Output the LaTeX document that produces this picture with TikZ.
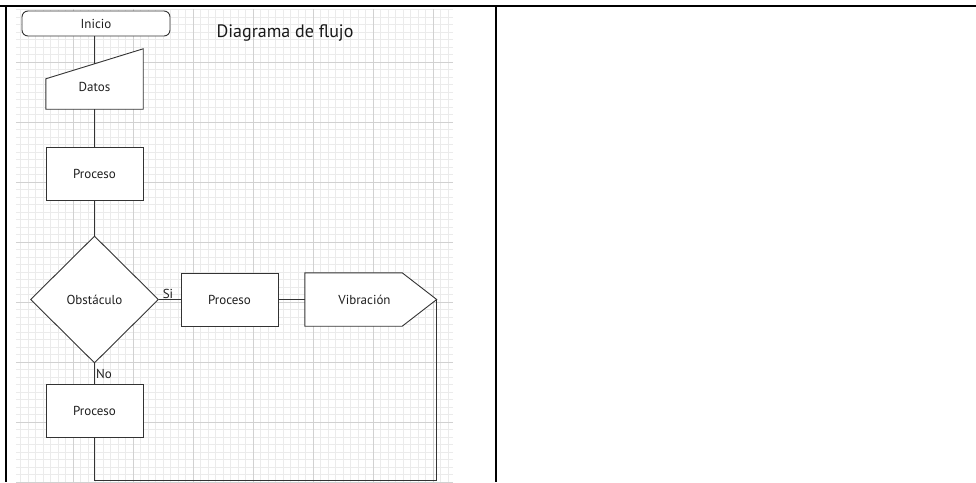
\documentclass[tikz,border=0pt]{standalone}
\usepackage{fontspec}
\setmainfont{PT Sans}
\usetikzlibrary{shapes.geometric,backgrounds}

\tikzset{
    linea/.style={draw=black!80, line width=0.9pt},
    malla/.style={draw=black!8, line width=0.6pt},
    mallagruesa/.style={draw=black!18, line width=0.6pt},
    borde/.style={draw=black, line width=2pt},
    texto/.style={font=\fontsize{13}{15}\selectfont, text=black!88},
    caja/.style={linea, texto, fill=white, rectangle, minimum width=97pt, minimum height=53pt, inner sep=0pt},
    inicio/.style={caja, rounded corners=6pt, minimum width=148pt, minimum height=25pt},
    decision/.style={linea, texto, fill=white, diamond, minimum width=128pt, minimum height=127pt, inner sep=0pt},
    hueco/.style={texto, rectangle, inner sep=0pt}
}

\begin{document}
\begin{tikzpicture}[x=1pt, y=-1pt]
    \useasboundingbox (0,0) rectangle (976,482);

    % nodos
    \node[inicio] (ini) at (96,23.5) {Inicio};
    \node[font=\fontsize{18}{21}\selectfont, text=black!90] (titulo) at (285,33) {Diagrama de flujo};
    \node[hueco, minimum width=97pt, minimum height=45pt] (datos) at (94.5,86.5) {Datos};
    \node[caja] (p1) at (94.5,174) {Proceso};
    \node[decision] (obst) at (94.5,299.5) {Obstáculo};
    \node[caja] (p2) at (229.5,299.5) {Proceso};
    \node[hueco, minimum width=119pt, minimum height=53pt] (vib) at (364.5,299.5) {Vibración};
    \coordinate (vibpunta) at ([xshift=12.5pt]vib.east);
    \node[caja] (p3) at (94.5,410.5) {Proceso};

    % etiquetas
    \node[texto] (si) at (168,294) {Si};
    \node[texto] (no) at (104,374) {No};

    % conectores
    \draw[linea] (ini.south -| datos.north) -- (datos.north);
    \draw[linea] (datos.south) -- (p1.north);
    \draw[linea] (p1.south) -- (obst.north);
    \draw[linea] (obst.east) -- (p2.west);
    \draw[linea] (p2.east) -- (vib.west);
    \draw[linea] (obst.south) -- (p3.north);
    \draw[linea] (vibpunta) -- ++(0,180.5) -| (p3.south);

    \begin{pgfonlayer}{background}
        % cuadricula
        \foreach \x in {20.5,28,...,453}
            \draw[malla] (\x,9) -- (\x,482);
        \foreach \y in {9.5,17,...,482}
            \draw[malla] (16,\y) -- (453,\y);
        \foreach \x in {73,133,...,433}
            \draw[mallagruesa] (\x,9) -- (\x,482);
        \foreach \y in {62,122,...,482}
            \draw[mallagruesa] (16,\y) -- (453,\y);
        % formas
        \filldraw[linea, fill=white] ([yshift=-15pt]datos.north west) -- ([yshift=15pt]datos.north east)
            -- (datos.south east) -- (datos.south west) -- cycle;
        \filldraw[linea, fill=white] (vib.north west) -- ([xshift=-22pt]vib.north east) -- (vibpunta)
            -- ([xshift=-22pt]vib.south east) -- (vib.south west) -- cycle;
    \end{pgfonlayer}

    % tabla
    \draw[borde] (0,5.5) -- (976,5.5);
    \draw[borde] (6,5.5) -- (6,482);
    \draw[borde] (495.5,5.5) -- (495.5,482);
\end{tikzpicture}
\end{document}
